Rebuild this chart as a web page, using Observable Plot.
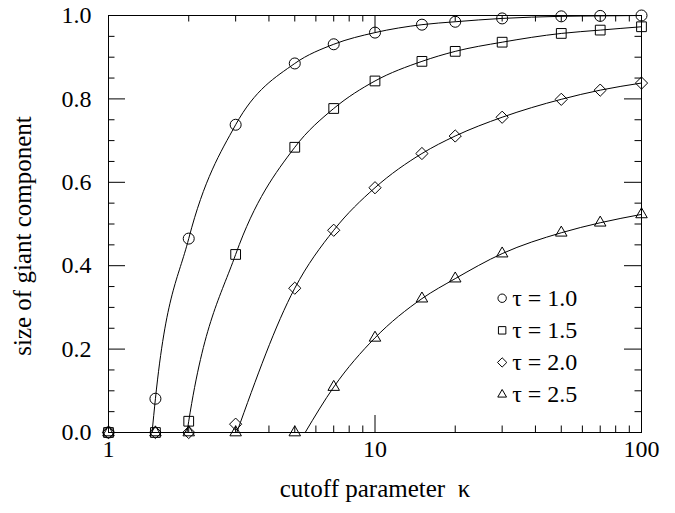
<!DOCTYPE html>
<html><head><meta charset="utf-8">
<script src="https://cdn.jsdelivr.net/npm/d3@7"></script>
<script src="https://cdn.jsdelivr.net/npm/@observablehq/plot@0.6"></script>
<style>body{margin:0;background:#fff}</style>
</head><body><div id="chart"></div>
<script>
// ---- data ----
const kappa = [1, 1.5, 2, 3, 5, 7, 10, 15, 20, 30, 50, 70, 100];
const tau10 = [0, 0.081, 0.465, 0.738, 0.885, 0.931, 0.959, 0.978, 0.985, 0.993, 0.998, 0.999, 1.0];
const tau15 = [0, 0, 0.027, 0.427, 0.684, 0.777, 0.843, 0.890, 0.914, 0.936, 0.957, 0.965, 0.973];
const tau20 = [0, 0, 0, 0.020, 0.346, 0.485, 0.587, 0.669, 0.711, 0.756, 0.799, 0.821, 0.838];
const tau25 = [0, 0, 0, 0, 0, 0.109, 0.227, 0.321, 0.369, 0.429, 0.479, 0.503, 0.523];
const thresholds = [1.457, 1.97, 3.03, 5.47];   // where each theory curve leaves zero
const seriesLabels = ["τ = 1.0", "τ = 1.5", "τ = 2.0", "τ = 2.5"];
const symbols = ["circle", "square", "diamond2", "triangle2"];
const xTickValues = [1, 10, 100];
const xTickLabels = ["1", "10", "100"];
const xMinorTicks = [2, 3, 4, 5, 6, 7, 8, 9, 20, 30, 40, 50, 60, 70, 80, 90];
const yTickValues = [0, 0.2, 0.4, 0.6, 0.8, 1.0];
const yTickLabels = ["0.0", "0.2", "0.4", "0.6", "0.8", "1.0"];
const yMinorTicks = [0.05, 0.1, 0.15, 0.25, 0.3, 0.35, 0.45, 0.5, 0.55, 0.65, 0.7, 0.75, 0.85, 0.9, 0.95];
const xTitle = "cutoff parameter\u00a0\u00a0κ";
const yTitle = "size of giant component";
const legendKappa = 30;
const legendTop = 0.322;
const legendStep = 0.077;

// ---- layout ----
const W = 675, H = 513, mL = 108, mR = 34, mT = 15, mB = 81;
const iw = W - mL - mR, ih = H - mT - mB;
const majorLen = 17, minorLen = 6.5;
const font = "Liberation Serif";

const allSeries = [tau10, tau15, tau20, tau25];
const points = allSeries.map(vals => kappa.map((k, i) => ({k, v: vals[i]})));
const curves = allSeries.map((vals, s) => [{k: thresholds[s], v: 0}]
  .concat(kappa.map((k, i) => ({k, v: vals[i]})).filter(d => d.k > thresholds[s] && d.v > 0)));
const legend = seriesLabels.map((label, i) => ({label, symbol: symbols[i], k: legendKappa, v: legendTop - i * legendStep}));

const txt = {fill: "black", fontFamily: font};
const marks = [
  Plot.frame({stroke: "black", strokeWidth: 1}),
  // ticks (inward, all four sides)
  Plot.tickX(xTickValues, {x: d => d, insetTop: ih - majorLen, stroke: "black"}),
  Plot.tickX(xTickValues, {x: d => d, insetBottom: ih - majorLen, stroke: "black"}),
  Plot.tickX(xMinorTicks, {x: d => d, insetTop: ih - minorLen, stroke: "black"}),
  Plot.tickX(xMinorTicks, {x: d => d, insetBottom: ih - minorLen, stroke: "black"}),
  Plot.tickY(yTickValues, {y: d => d, insetRight: iw - majorLen, stroke: "black"}),
  Plot.tickY(yTickValues, {y: d => d, insetLeft: iw - majorLen, stroke: "black"}),
  Plot.tickY(yMinorTicks, {y: d => d, insetRight: iw - minorLen, stroke: "black"}),
  Plot.tickY(yMinorTicks, {y: d => d, insetLeft: iw - minorLen, stroke: "black"}),
  // tick labels
  Plot.text(xTickValues, {x: d => d, text: (d, i) => xTickLabels[i], frameAnchor: "bottom", dy: 24, fontSize: 24, ...txt}),
  Plot.text(yTickValues, {y: d => d, text: (d, i) => yTickLabels[i], frameAnchor: "left", textAnchor: "end", dx: -17, fontSize: 24, ...txt}),
  // titles
  Plot.text([xTitle], {text: d => d, frameAnchor: "bottom", textAnchor: "middle", dy: 64, fontSize: 25, ...txt}),
  Plot.text([yTitle], {text: d => d, frameAnchor: "left", textAnchor: "middle", rotate: -90, dx: -86, dy: 12, fontSize: 25, ...txt}),
  // curves
  ...curves.map(c => Plot.line(c, {x: "k", y: "v", curve: "monotone-x", stroke: "black", strokeWidth: 1})),
  // markers
  ...points.map((p, s) => Plot.dot(p, {x: "k", y: "v", symbol: () => symbols[s], r: 5.5, stroke: "black", fill: "none", strokeWidth: 1})),
  // legend
  Plot.dot(legend, {x: "k", y: "v", symbol: "symbol", r: 4.2, stroke: "black", fill: "none", strokeWidth: 1}),
  Plot.text(legend, {x: "k", y: "v", text: "label", dx: 10, textAnchor: "start", fontSize: 24, ...txt})
];

const chart = Plot.plot({
  width: W, height: H,
  marginLeft: mL, marginRight: mR, marginTop: mT, marginBottom: mB,
  style: {fontFamily: font, background: "white", color: "black", overflow: "visible"},
  x: {type: "log", domain: [1, 100], axis: null},
  y: {domain: [0, 1], axis: null},
  symbol: {type: "identity"},
  marks
});
document.getElementById("chart").appendChild(chart);
</script>
</body></html>
